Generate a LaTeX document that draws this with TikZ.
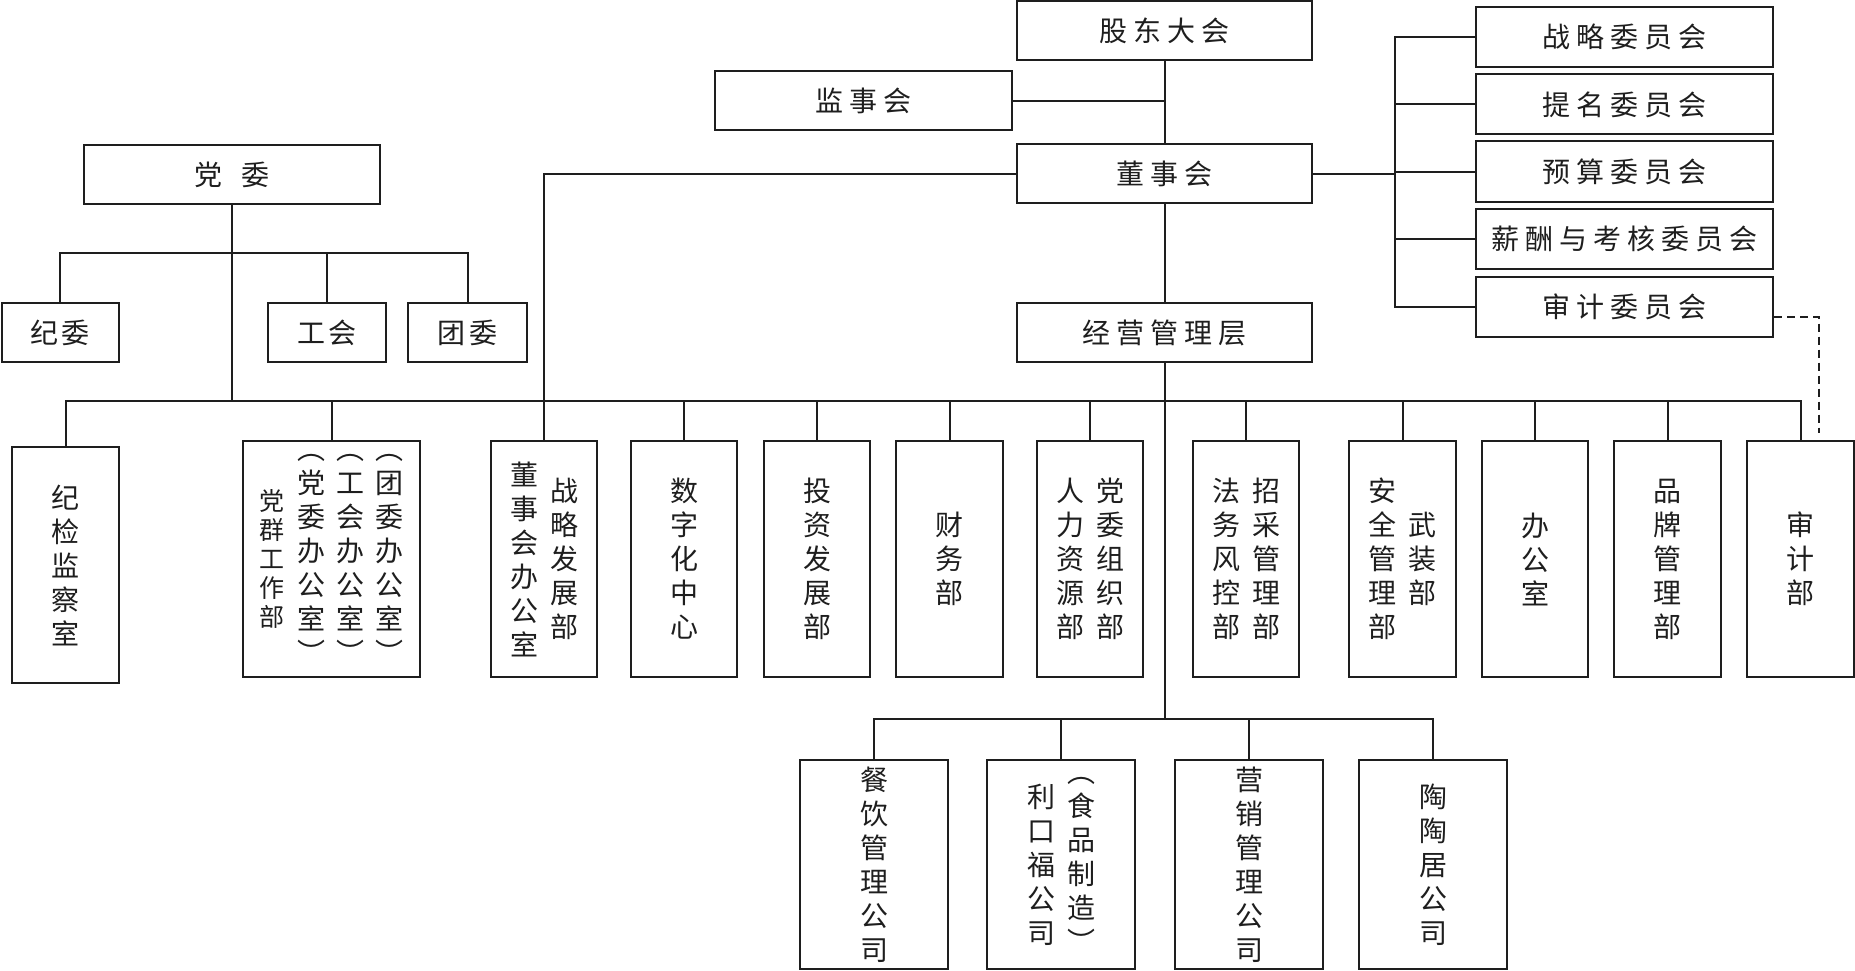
\documentclass[tikz,border=0pt]{standalone}
\usepackage{fontspec}
\setmainfont{Noto Sans CJK SC}
\definecolor{ink}{RGB}{30,30,30}
\newlength\spcgap \setlength\spcgap{6pt}
\newlength\vpitch \setlength\vpitch{34pt}
\def\gobbleone#1{}
\def\spc#1{\spcA#1\relax}
\def\spcA#1#2{#1\ifx\relax#2\expandafter\gobbleone\else\hspace{\spcgap}\expandafter\spcA\fi#2}
\def\vcolA#1#2{\hbox to 1em{\hss#1\hss}\ifx\relax#2\expandafter\gobbleone\else\expandafter\vcolA\fi#2}
\newcommand\vcol[1]{\vbox{\baselineskip=\vpitch\lineskiplimit=-\maxdimen\lineskip=0pt\vcolA#1\relax}}
\newcommand\vc[1]{\vcenter{\vcol{#1}}}
\newcommand\onecol[1]{$\vc{#1}$}
\newcommand\twocol[2]{$\vc{#1}\hskip12pt\vc{#2}$}
\begin{document}
\begin{tikzpicture}[x=1pt,y=-1pt,
  box/.style={draw=ink, line width=2pt, inner sep=0pt, text=ink, font=\fontsize{28}{34}\selectfont},
  hb/.style={box, minimum width=#1, minimum height=59pt},
  vb/.style={box, minimum width=#1, minimum height=236pt},
  cb/.style={box, minimum width=148pt, minimum height=209pt},
  ln/.style={draw=ink, line width=2pt},
  dln/.style={draw=ink, line width=2pt, dash pattern=on 8pt off 5pt}]
\useasboundingbox (0,0) rectangle (1855,971);
% top
\node[hb=295pt] (gd) at (1164.5,30.5) {\spc{股东大会}};
\node[hb=297pt] (jsh) at (863.5,101) {\spc{监事会}};
\node[hb=295pt] (dsh) at (1164.5,173.5) {\spc{董事会}};
\node[hb=295pt] (jy) at (1164.5,332.5) {\spc{经营管理层}};
\node[hb=296pt] (dw) at (232,174.5) {党\hspace{19pt}委};
\setlength\spcgap{4pt}
\node[hb=117pt] (jw) at (60,332.5) {\spc{纪委}};
\node[hb=118pt] (gh) at (327,332.5) {\spc{工会}};
\node[hb=119pt] (tw) at (467.5,332.5) {\spc{团委}};
\setlength\spcgap{6pt}
% committees
\node[hb=297pt, minimum height=60pt] (c1) at (1624.5,37) {\spc{战略委员会}};
\node[hb=297pt, minimum height=60pt] (c2) at (1624.5,104.5) {\spc{提名委员会}};
\node[hb=297pt, minimum height=60pt] (c3) at (1624.5,171.5) {\spc{预算委员会}};
\node[hb=297pt, minimum height=60pt] (c4) at (1624.5,239) {\spc{薪酬与考核委员会}};
\node[hb=297pt, minimum height=60pt] (c5) at (1624.5,306.5) {\spc{审计委员会}};
% row 1
\node[vb=107pt] (jjjc) at (65.5,565) {\onecol{纪检监察室}};
\node[vb=177pt] (dq) at (331.5,559) {$\vcenter{\fontsize{25}{29}\selectfont\setlength\vpitch{29pt}\vcol{党群工作部}}\hskip12.5pt\vc{︵党委办公室︶}\hskip11pt\vc{︵工会办公室︶}\hskip11pt\vc{︵团委办公室︶}$};
\node[vb=106pt] (dshb) at (544,559) {\twocol{董事会办公室}{战略发展部}};
\node[vb=106pt] (szh) at (684,559) {\onecol{数字化中心}};
\node[vb=106pt] (tz) at (817,559) {\onecol{投资发展部}};
\node[vb=107pt] (cw) at (949.5,559) {\onecol{财务部}};
\node[vb=106pt] (dwzz) at (1090,559) {\twocol{人力资源部}{党委组织部}};
\node[vb=106pt] (zc) at (1246,559) {\twocol{法务风控部}{招采管理部}};
\node[vb=107pt] (wz) at (1402.5,559) {\twocol{安全管理部}{武装部}};
\node[vb=106pt] (bgs) at (1535,559) {\onecol{办公室}};
\node[vb=107pt] (pp) at (1667.5,559) {\onecol{品牌管理部}};
\node[vb=107pt] (sj) at (1800.5,559) {\onecol{审计部}};
% row 2
\node[cb] (cy) at (874,864.5) {\onecol{餐饮管理公司}};
\node[cb] (lkf) at (1061,864.5) {\twocol{利口福公司}{︵食品制造︶}};
\node[cb] (yx) at (1249,864.5) {\onecol{营销管理公司}};
\node[cb] (ttj) at (1433,864.5) {\onecol{陶陶居公司}};
% helper coordinates
\coordinate (pbar) at (0,253);
\coordinate (mbar) at (0,401);
\coordinate (sbar) at (0,719);
\coordinate (br) at (1395,173.5);
\coordinate (dend) at (1819,433);
% connectors top
\path[ln] (gd.south) -- (dsh.north);
\path[ln] (jsh.east) -- (gd.south |- jsh.east);
\path[ln] (dsh.south) -- (jy.north);
\path[ln] (dsh.west) -| (dshb.north);
\path[ln] (dsh.east) -- (br);
\path[ln] (c1.west) -- (c1.west -| br) -- (c5.west -| br) -- (c5.west);
\path[ln] (c2.west) -- (c2.west -| br);
\path[ln] (c3.west) -- (c3.west -| br);
\path[ln] (c4.west) -- (c4.west -| br);
\path[dln] ([yshift=-10pt]c5.east) -| (dend);
% party
\path[ln] (dw.south) -- (dw.south |- mbar);
\path[ln] (jw.north) |- (pbar -| tw.north) -- (tw.north);
\path[ln] (gh.north) -- (gh.north |- pbar);
% main bar
\path[ln] (jjjc.north) |- (mbar -| sj.north) -- (sj.north);
\foreach \n in {dq,szh,tz,cw,dwzz,zc,wz,bgs,pp} {\path[ln] (\n.north) -- (\n.north |- mbar);}
% subsidiaries
\path[ln] (jy.south) -- (jy.south |- sbar);
\path[ln] (cy.north) |- (sbar -| ttj.north) -- (ttj.north);
\path[ln] (lkf.north) -- (lkf.north |- sbar);
\path[ln] (yx.north) -- (yx.north |- sbar);
\end{tikzpicture}
\end{document}
